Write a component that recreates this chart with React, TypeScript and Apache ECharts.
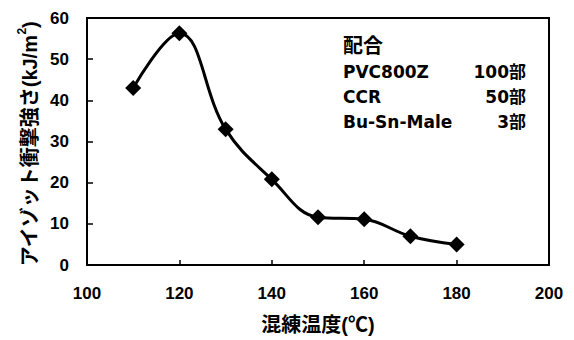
import React, { useEffect, useRef } from "react";
import * as echarts from "echarts";

const temps = [110, 120, 130, 140, 150, 160, 170, 180];
const strength = [43, 56.3, 33, 20.8, 11.6, 11.1, 7, 5];
const xTicks = { min: 100, max: 200, interval: 20 };
const yTicks = { min: 0, max: 60, interval: 10 };
const recipeTitle = "配合";
const recipeNames = ["PVC800Z", "CCR", "Bu-Sn-Male"];
const recipeParts = ["100部", "50部", "3部"];
const xName = "混練温度(℃)";
const yNameMain = "アイゾット衝撃強さ(kJ/m";
const yNameSup = "2";
const yNameEnd = ")";

const FONT = "'Liberation Sans', Arial, 'Noto Sans CJK JP', sans-serif";
const WIDE = "'DejaVu Sans', 'Noto Sans CJK JP', sans-serif";

export default function App() {
  const ref = useRef<HTMLDivElement>(null);
  useEffect(() => {
    if (!ref.current) return;
    const chart = echarts.init(ref.current, undefined, { renderer: "svg" });
    const rowY = [72, 97, 122];
    const graphics: any[] = [
      {
        type: "text",
        x: 28,
        y: 144,
        rotation: Math.PI / 2,
        style: {
          text: `{a|${yNameMain}}{s|${yNameSup}}{a|${yNameEnd}}`,
          align: "center",
          verticalAlign: "middle",
          fill: "#000",
          rich: {
            a: { fontFamily: FONT, fontWeight: "bold", fontSize: 20, lineHeight: 24, verticalAlign: "bottom", fill: "#000" },
            s: { fontFamily: FONT, fontWeight: "bold", fontSize: 12, lineHeight: 24, verticalAlign: "top", fill: "#000" },
          },
        },
      },
      {
        type: "text",
        x: 343,
        y: 46,
        style: { text: recipeTitle, verticalAlign: "middle", fill: "#000", font: `bold 20px ${WIDE}` },
      },
    ];
    recipeNames.forEach((n, i) => {
      graphics.push({
        type: "text",
        x: 343,
        y: rowY[i],
        style: { text: n, verticalAlign: "middle", fill: "#000", font: `bold 17px ${WIDE}` },
      });
      graphics.push({
        type: "text",
        x: 526,
        y: rowY[i],
        style: { text: recipeParts[i], align: "right", verticalAlign: "middle", fill: "#000", font: `bold 17px ${WIDE}` },
      });
    });
    chart.setOption({
      animation: false,
      backgroundColor: "#fff",
      grid: {
        left: 87,
        right: 25,
        top: 18,
        bottom: 72,
        show: true,
        borderColor: "#000",
        borderWidth: 2,
      },
      xAxis: {
        type: "value",
        ...xTicks,
        name: xName,
        nameLocation: "middle",
        nameGap: 50,
        nameTextStyle: { fontFamily: FONT, fontWeight: "bold", fontSize: 20, color: "#000" },
        axisLine: { show: true, lineStyle: { color: "#000", width: 2 } },
        axisTick: { show: true, inside: true, length: 5, lineStyle: { color: "#000", width: 1.5 } },
        axisLabel: { margin: 20, fontFamily: FONT, fontWeight: "bold", fontSize: 17, color: "#000" },
        splitLine: { show: false },
      },
      yAxis: {
        type: "value",
        ...yTicks,
        axisLine: { show: true, lineStyle: { color: "#000", width: 2 } },
        axisTick: { show: true, inside: true, length: 6, lineStyle: { color: "#000", width: 1.5 } },
        axisLabel: { margin: 18, fontFamily: FONT, fontWeight: "bold", fontSize: 17, color: "#000" },
        splitLine: { show: false },
      },
      graphic: graphics,
      series: [
        {
          type: "line",
          data: temps.map((t, i) => [t, strength[i]]),
          smooth: 0.4,
          symbol: "diamond",
          symbolSize: 16,
          itemStyle: { color: "#000" },
          lineStyle: { color: "#000", width: 3 },
        },
      ],
    });
    return () => chart.dispose();
  }, []);
  return (
    <div
      ref={ref}
      style={{ position: "fixed", left: 0, top: 0, width: 574, height: 340, background: "#fff" }}
    />
  );
}
